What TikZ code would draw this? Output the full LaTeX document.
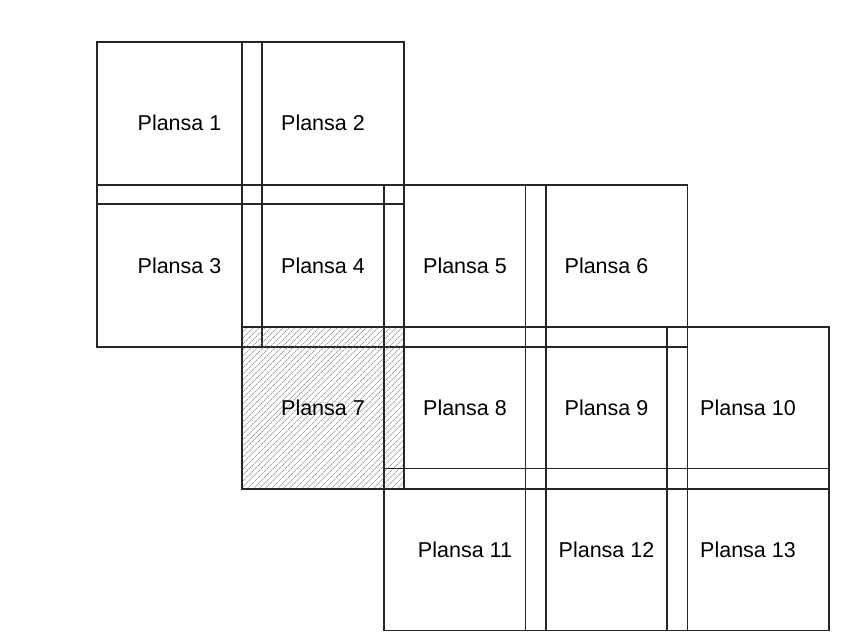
\documentclass[tikz,border=0pt]{standalone}
\usepackage{fontspec}
\setmainfont{Liberation Sans}
\usetikzlibrary{math}
\usetikzlibrary{patterns.meta}

\begin{document}
\begin{tikzpicture}[x=1pt, y=-1pt]
\tikzset{
  base/.style={draw=black!85, line width=1.2pt, inner sep=0pt, align=center,
    font=\fontsize{21.5}{25}\selectfont},
  sheet/.style={base, minimum width=162pt, minimum height=162pt},
  cut/.style={pattern={Lines[angle=45, distance=4pt, line width=0.6pt]},
    pattern color=black!55},
}
\useasboundingbox (0,0) rectangle (855,637);

\tikzmath{\ca=179.5; \cb=323; \cc=465; \cd=606.5; \ce=748;
  \ra=123; \rb=266; \rc=408; \rd=549.5;}

% first row
\node [sheet, minimum width=165pt] (p1) at (\ca, \ra) {Plansa 1};
\node [sheet] (p2) at (\cb, \ra) {Plansa 2};

% second row
\node [sheet, minimum width=165pt] (p3) at (\ca, \rb) {Plansa 3};
\node [sheet] (p4) at (\cb, \rb) {Plansa 4};
\node [sheet] (p5) at (\cc, \rb) {Plansa 5};
\node [sheet] (p6) at (\cd, \rb) {Plansa 6};

% third row
\node [sheet, cut] (p7) at (\cb, \rc) {Plansa 7};
\node [sheet] (p8) at (\cc, \rc) {Plansa 8};
\node [sheet] (p9) at (\cd, \rc) {Plansa 9};
\node [sheet] (p10) at (\ce, \rc) {Plansa 10};

% fourth row
\node [sheet] (p11) at (\cc, \rd) {Plansa 11};
\node [sheet] (p12) at (\cd, \rd) {Plansa 12};
\node [sheet] (p13) at (\ce, \rd) {Plansa 13};
\end{tikzpicture}
\end{document}
